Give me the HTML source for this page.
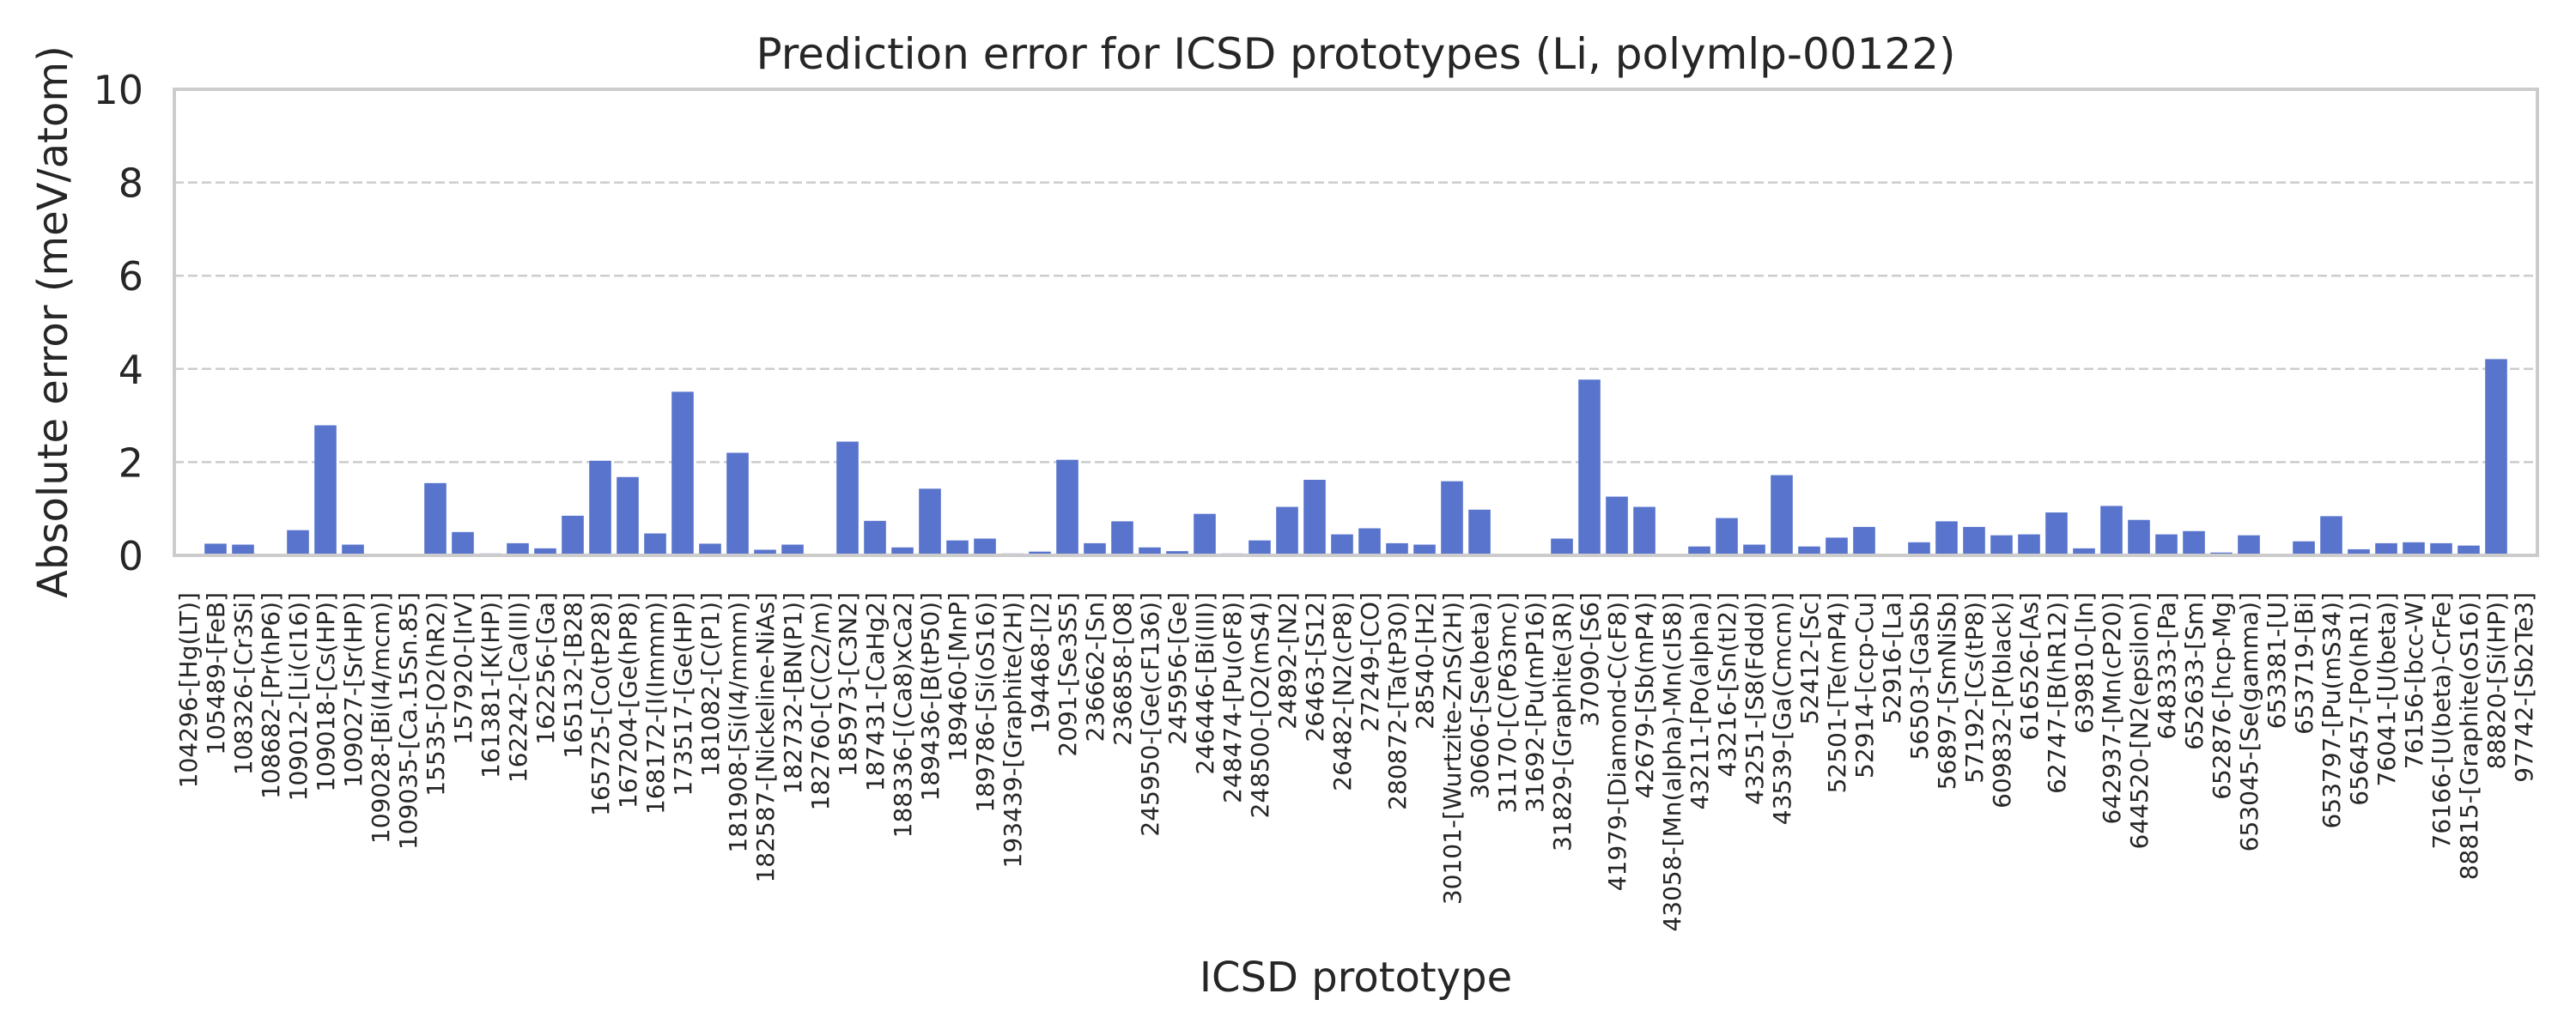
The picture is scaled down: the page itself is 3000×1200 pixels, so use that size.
<!DOCTYPE html>
<html>
<head>
<meta charset="utf-8">
<style>
  html, body { margin:0; padding:0; background:#ffffff; }
  svg { display:block; }
  text { font-family: "DejaVu Sans", "Liberation Sans", sans-serif; fill:#262626; }
</style>
</head>
<body>
<svg id="chart" width="3000" height="1200" viewBox="0 0 3000 1200" xmlns="http://www.w3.org/2000/svg">
  <rect x="0" y="0" width="3000" height="1200" fill="#ffffff"></rect>
  <text x="1579" y="80" font-size="50" text-anchor="middle">Prediction error for ICSD prototypes (Li, polymlp-00122)</text>
  <text transform="translate(78,375) rotate(-90)" font-size="48" text-anchor="middle">Absolute error (meV/atom)</text>
  <text x="1579" y="1155" font-size="48" text-anchor="middle">ICSD prototype</text>
  <g id="grid"></g>
  <g id="bars"></g>
  <g id="yticks"></g>
  <g id="xticks"></g>
  <rect x="203" y="104" width="2752" height="543" fill="none" stroke="#cccccc" stroke-width="4"></rect>
</svg>
<script>
const categories = [
"104296-[Hg(LT)]","105489-[FeB]","108326-[Cr3Si]","108682-[Pr(hP6)]","109012-[Li(cI16)]","109018-[Cs(HP)]","109027-[Sr(HP)]","109028-[Bi(I4/mcm)]","109035-[Ca.15Sn.85]","15535-[O2(hR2)]",
"157920-[IrV]","161381-[K(HP)]","162242-[Ca(III)]","162256-[Ga]","165132-[B28]","165725-[Co(tP28)]","167204-[Ge(hP8)]","168172-[I(Immm)]","173517-[Ge(HP)]","181082-[C(P1)]",
"181908-[Si(I4/mmm)]","182587-[Nickeline-NiAs]","182732-[BN(P1)]","182760-[C(C2/m)]","185973-[C3N2]","187431-[CaHg2]","188336-[(Ca8)xCa2]","189436-[B(tP50)]","189460-[MnP]","189786-[Si(oS16)]",
"193439-[Graphite(2H)]","194468-[I2]","2091-[Se3S5]","236662-[Sn]","236858-[O8]","245950-[Ge(cF136)]","245956-[Ge]","246446-[Bi(III)]","248474-[Pu(oF8)]","248500-[O2(mS4)]",
"24892-[N2]","26463-[S12]","26482-[N2(cP8)]","27249-[CO]","280872-[Ta(tP30)]","28540-[H2]","30101-[Wurtzite-ZnS(2H)]","30606-[Se(beta)]","31170-[C(P63mc)]","31692-[Pu(mP16)]",
"31829-[Graphite(3R)]","37090-[S6]","41979-[Diamond-C(cF8)]","42679-[Sb(mP4)]","43058-[Mn(alpha)-Mn(cI58)]","43211-[Po(alpha)]","43216-[Sn(tI2)]","43251-[S8(Fddd)]","43539-[Ga(Cmcm)]","52412-[Sc]",
"52501-[Te(mP4)]","52914-[ccp-Cu]","52916-[La]","56503-[GaSb]","56897-[SmNiSb]","57192-[Cs(tP8)]","609832-[P(black)]","616526-[As]","62747-[B(hR12)]","639810-[In]",
"642937-[Mn(cP20)]","644520-[N2(epsilon)]","648333-[Pa]","652633-[Sm]","652876-[hcp-Mg]","653045-[Se(gamma)]","653381-[U]","653719-[Bi]","653797-[Pu(mS34)]","656457-[Po(hR1)]",
"76041-[U(beta)]","76156-[bcc-W]","76166-[U(beta)-CrFe]","88815-[Graphite(oS16)]","88820-[Si(HP)]","97742-[Sb2Te3]"
];
const errors = [
0.0,0.25,0.23,0.0,0.54,2.79,0.23,0.03,0.0,1.55,
0.50,0.04,0.26,0.15,0.85,2.03,1.68,0.47,3.51,0.25,
2.20,0.12,0.23,0.03,2.44,0.74,0.17,1.43,0.32,0.36,
0.04,0.08,2.05,0.26,0.73,0.17,0.09,0.89,0.04,0.32,
1.04,1.62,0.45,0.58,0.26,0.23,1.59,0.98,0.03,0.0,
0.36,3.77,1.26,1.04,0.0,0.19,0.80,0.23,1.72,0.19,
0.38,0.61,0.0,0.28,0.73,0.61,0.43,0.45,0.92,0.15,
1.06,0.76,0.45,0.52,0.06,0.43,0.0,0.30,0.84,0.13,
0.26,0.28,0.26,0.21,4.21,0.03
];
const yTicks = [0,2,4,6,8,10];
const yTickLabels = ["0","2","4","6","8","10"];

const NS = "http://www.w3.org/2000/svg";
const plot = {left:203, right:2955, top:104, bottom:647};
const yMax = 10;
function yScale(v){ return plot.bottom - (v / yMax) * (plot.bottom - plot.top); }
const band = (plot.right - plot.left) / categories.length;
function xCenter(i){ return plot.left + band * (i + 0.5); }

const grid = document.getElementById('grid');
const yt = document.getElementById('yticks');
yTicks.forEach((t, i) => {
  const y = yScale(t);
  const l = document.createElementNS(NS, 'line');
  l.setAttribute('x1', plot.left); l.setAttribute('x2', plot.right);
  l.setAttribute('y1', y); l.setAttribute('y2', y);
  l.setAttribute('stroke', '#cccccc'); l.setAttribute('stroke-width', '2.5');
  l.setAttribute('stroke-dasharray', '11 5');
  
  
  grid.appendChild(l);
  const tx = document.createElementNS(NS, 'text');
  tx.setAttribute('x', 167); tx.setAttribute('y', y + 17);
  tx.setAttribute('font-size', '46'); tx.setAttribute('text-anchor', 'end');
  tx.textContent = yTickLabels[i];
  
  
  yt.appendChild(tx);
});

const bars = document.getElementById('bars');
const xt = document.getElementById('xticks');
const bw = band * 0.8;
categories.forEach((c, i) => {
  const v = errors[i];
  const y = yScale(v);
  const r = document.createElementNS(NS, 'rect');
  r.setAttribute('x', xCenter(i) - bw / 2);
  r.setAttribute('y', y);
  r.setAttribute('width', bw);
  r.setAttribute('height', Math.max(0, plot.bottom - y));
  r.setAttribute('fill', '#5874cc');
  
  
  bars.appendChild(r);
  const tx = document.createElementNS(NS, 'text');
  tx.setAttribute('transform', 'translate(' + (xCenter(i) + 10) + ',690) rotate(-90)');
  tx.setAttribute('font-size', '28'); tx.setAttribute('text-anchor', 'end');
  tx.textContent = c;
  
  
  xt.appendChild(tx);
});
</script>
</body>
</html>
